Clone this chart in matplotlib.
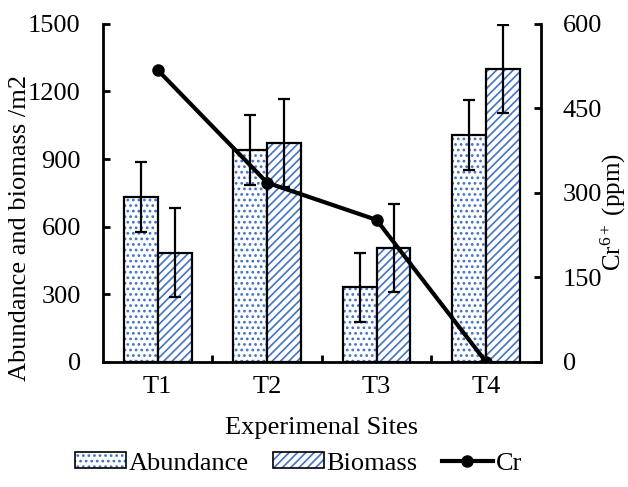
import numpy as np
import matplotlib; matplotlib.use('agg')
import matplotlib.pyplot as plt
from matplotlib.patches import Patch
from matplotlib.lines import Line2D
from matplotlib.legend_handler import HandlerTuple

plt.rcParams['font.family'] = 'Liberation Serif'
plt.rcParams['mathtext.fontset'] = 'custom'
plt.rcParams['mathtext.rm'] = 'Liberation Serif'
plt.rcParams['mathtext.it'] = 'Liberation Serif:italic'
plt.rcParams['hatch.linewidth'] = 1.2

# data
sites = ['T1', 'T2', 'T3', 'T4']
abundance = [732, 940, 330, 1005]
abundance_err = [155, 155, 155, 155]
biomass = [484, 970, 505, 1300]
biomass_err = [197, 195, 195, 197]
cr = [518, 318, 252, 0]

blue = '#4472C4'
fs = 19

fig = plt.figure(figsize=(6.28, 4.87), dpi=100)
ax = fig.add_axes([0.164, 0.257, 0.697, 0.694])
x = np.arange(len(sites))
w = 0.31

# hatched fill, then black outline on top
ax.bar(x - w/2, abundance, w, color='white', edgecolor=blue, hatch='...', lw=0)
ax.bar(x - w/2, abundance, w, fill=False, edgecolor='black', lw=1.6)
ax.bar(x + w/2, biomass, w, color='white', edgecolor=blue, hatch='////', lw=0)
ax.bar(x + w/2, biomass, w, fill=False, edgecolor='black', lw=1.6)
ax.errorbar(x - w/2, abundance, yerr=abundance_err, fmt='none', ecolor='black',
            elinewidth=1.6, capsize=4, capthick=1.6)
ax.errorbar(x + w/2, biomass, yerr=biomass_err, fmt='none', ecolor='black',
            elinewidth=1.6, capsize=4, capthick=1.6)

ax.set_xlim(-0.5, 3.5)
ax.set_ylim(0, 1500)
ax.set_yticks(np.arange(0, 1501, 300))
ax.set_xticks([0.5, 1.5, 2.5])
ax.set_xticklabels([])
ax.set_xticks(x, minor=True)
ax.set_xticklabels(sites, minor=True)
ax.tick_params(axis='x', which='major', direction='in', length=5, width=2)
ax.tick_params(axis='x', which='minor', length=0, pad=10, labelsize=fs)
ax.tick_params(axis='y', direction='in', length=5, width=2, labelsize=fs, pad=16)
for s in ['top', 'right']:
    ax.spines[s].set_visible(False)
for s in ['left', 'bottom']:
    ax.spines[s].set_linewidth(2)
ax.set_ylabel('Abundance and biomass /m2', fontsize=fs)
ax.yaxis.set_label_coords(-0.165, 0.396)
ax.set_xlabel('Experimenal Sites', fontsize=fs, labelpad=14)

ax2 = ax.twinx()
ax2.plot(x, cr, color='black', lw=3, marker='o', ms=8)
ax2.set_ylim(0, 600)
ax2.set_yticks(np.arange(0, 601, 150))
ax2.tick_params(axis='y', direction='in', length=5, width=2, labelsize=fs, pad=16)
for s in ['top', 'left', 'bottom']:
    ax2.spines[s].set_visible(False)
ax2.spines['right'].set_linewidth(2)
ax2.set_ylabel('Cr$^{6+}$ (ppm)', fontsize=18)
ax2.yaxis.set_label_coords(1.133, 0.444)

h_ab = (Patch(facecolor='white', edgecolor=blue, hatch='...', lw=0),
        Patch(fill=False, edgecolor='black', lw=1.2))
h_bi = (Patch(facecolor='white', edgecolor=blue, hatch='////', lw=0),
        Patch(fill=False, edgecolor='black', lw=1.2))
h_cr = Line2D([], [], color='black', lw=3, marker='o', ms=8)
fig.legend([h_ab, h_bi, h_cr], ['Abundance', 'Biomass', 'Cr'],
           handler_map={tuple: HandlerTuple(ndivide=1)},
           loc='center', bbox_to_anchor=(0.475, 0.048), ncol=3, frameon=False,
           fontsize=fs, handlelength=1.95, handleheight=0.55, handletextpad=0.1,
           columnspacing=0.9)

fig.savefig('out.png', dpi=100)
